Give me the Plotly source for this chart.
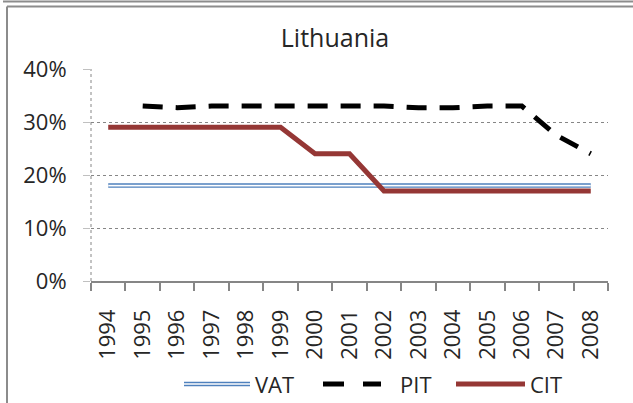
import plotly.graph_objects as go

years = [str(y) for y in range(1994, 2009)]
vat = [0.18] * 15
pit = [None, 0.33, 0.327, 0.33, 0.33, 0.33, 0.33, 0.33, 0.33, 0.327, 0.327, 0.33, 0.33, 0.275, 0.24]
cit = [0.29, 0.29, 0.29, 0.29, 0.29, 0.29, 0.24, 0.24, 0.17, 0.17, 0.17, 0.17, 0.17, 0.17, 0.17]

W, H = 633, 403
L, R, T, B = 91, 25, 69, 122
PW, PH = W - L - R, H - T - B

FONT = 'Open Sans'
TXT = '#262626'
GRAY = '#868686'
BLUE = '#4F81BD'
RED = '#953735'


def px(x):
    return (x - L) / PW


def py(y):
    return (H - B - y) / PH


fig = go.Figure()

# VAT: double line (blue outline, white core)
fig.add_trace(go.Scatter(x=years, y=vat, mode='lines', name='VAT',
                         line=dict(color=BLUE, width=4.5)))
fig.add_trace(go.Scatter(x=years, y=vat, mode='lines', name='VAT',
                         line=dict(color='white', width=1.6)))
fig.add_trace(go.Scatter(x=years, y=pit, mode='lines', name='PIT',
                         line=dict(color='black', width=5, dash='20px,13px')))
fig.add_trace(go.Scatter(x=years, y=cit, mode='lines', name='CIT',
                         line=dict(color=RED, width=5)))

shapes = []
# outer frame pieces
frame = dict(color='#8c8c8c', width=2)
shapes.append(dict(type='line', xref='paper', yref='paper', x0=px(3), x1=px(W), y0=py(1.5), y1=py(1.5), line=frame))
shapes.append(dict(type='line', xref='paper', yref='paper', x0=px(7), x1=px(W), y0=py(6.5), y1=py(6.5), line=frame))
shapes.append(dict(type='line', xref='paper', yref='paper', x0=px(7), x1=px(7), y0=py(6.5), y1=py(H), line=frame))
# dotted value axis
shapes.append(dict(type='line', xref='paper', yref='paper', x0=0, x1=0, y0=0, y1=1,
                   line=dict(color=GRAY, width=1, dash='dot')))

# legend samples
ly = py(384)
shapes.append(dict(type='line', xref='paper', yref='paper', x0=px(184), x1=px(250), y0=ly, y1=ly,
                   line=dict(color=BLUE, width=4.5)))
shapes.append(dict(type='line', xref='paper', yref='paper', x0=px(184), x1=px(250), y0=ly, y1=ly,
                   line=dict(color='white', width=1.6)))
shapes.append(dict(type='line', xref='paper', yref='paper', x0=px(323), x1=px(344), y0=ly, y1=ly,
                   line=dict(color='black', width=5)))
shapes.append(dict(type='line', xref='paper', yref='paper', x0=px(363), x1=px(381), y0=ly, y1=ly,
                   line=dict(color='black', width=5)))
shapes.append(dict(type='line', xref='paper', yref='paper', x0=px(456), x1=px(525), y0=ly, y1=ly,
                   line=dict(color=RED, width=5)))

annotations = []
for label, x in [('VAT', 253), ('PIT', 398), ('CIT', 528)]:
    annotations.append(dict(text=label, xref='paper', yref='paper', x=px(x), y=ly,
                            xanchor='left', yanchor='middle', showarrow=False,
                            font=dict(family=FONT, size=22, color=TXT)))

fig.update_layout(
    width=W, height=H,
    margin=dict(l=L, r=R, t=T, b=B),
    paper_bgcolor='white', plot_bgcolor='white',
    title=dict(text='Lithuania', x=px(335), xanchor='center', xref='paper',
               y=1 - 38 / H, yanchor='middle', yref='container',
               font=dict(family=FONT, size=25, color=TXT)),
    font=dict(family=FONT, size=22, color=TXT),
    shapes=shapes,
    annotations=annotations,
    showlegend=False,
)

fig.update_xaxes(type='category', range=[-0.5, len(years) - 0.5], tickson='boundaries',
                 ticks='outside', ticklen=8,
                 tickcolor=GRAY, tickwidth=1.5, showline=True, linecolor=GRAY, linewidth=1.5,
                 tickangle=-90, showgrid=False, ticklabelstandoff=18,
                 tickfont=dict(family=FONT, size=22, color=TXT))
fig.update_yaxes(range=[0, 0.4], dtick=0.1, tickformat='.0%', showgrid=True,
                 gridcolor=GRAY, griddash='dot', gridwidth=1, zeroline=False, showline=False,
                 ticks='outside', ticklen=7, tickcolor='#c0c0c0', ticklabelstandoff=12,
                 tickfont=dict(family=FONT, size=22, color=TXT))

# page body has a default 8px margin; drop it so the figure fills the window
fig.write_html('out.html', config={'displayModeBar': False},
               post_script="document.body.style.margin='0';")
